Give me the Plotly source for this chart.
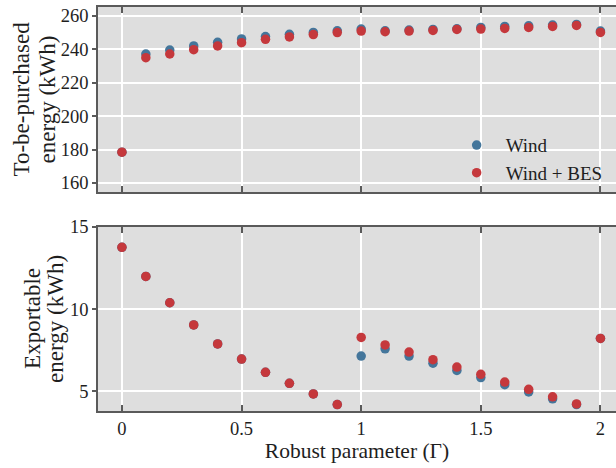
import plotly.graph_objects as go
from plotly.subplots import make_subplots

gamma = [0.0, 0.1, 0.2, 0.3, 0.4, 0.5, 0.6, 0.7, 0.8, 0.9, 1.0,
         1.1, 1.2, 1.3, 1.4, 1.5, 1.6, 1.7, 1.8, 1.9, 2.0]

purchased_wind = [178.4, 237.1, 239.5, 241.9, 244.1, 246.1, 247.5, 248.9, 250.0, 251.0, 252.0,
                  251.0, 251.4, 251.8, 252.2, 253.0, 253.6, 254.0, 254.4, 254.8, 250.8]
purchased_wind_bes = [178.4, 234.9, 237.1, 239.7, 241.9, 243.9, 245.9, 247.3, 248.7, 249.9, 250.8,
                      250.4, 250.8, 251.2, 251.8, 252.0, 252.4, 253.0, 253.6, 254.2, 250.0]

export_wind = [13.75, 11.98, 10.38, 9.03, 7.88, 6.96, 6.15, 5.48, 4.84, 4.19, 7.14,
               7.58, 7.14, 6.71, 6.27, 5.83, 5.40, 4.96, 4.54, 4.19, 8.21]
export_wind_bes = [13.75, 11.98, 10.38, 9.03, 7.88, 6.96, 6.15, 5.48, 4.84, 4.19, 8.27,
                   7.82, 7.38, 6.92, 6.47, 6.03, 5.56, 5.12, 4.66, 4.23, 8.21]

x_ticks = [0, 0.5, 1, 1.5, 2]
x_tick_labels = ["0", "0.5", "1", "1.5", "2"]
y1_ticks = [160, 180, 200, 220, 240, 260]
y2_ticks = [5, 10, 15]
y1_title = ["To-be-purchased", "energy (kWh)"]
y2_title = ["Exportable", "energy (kWh)"]
x_title = "Robust parameter (Γ)"

BLUE = "#44769b"
RED = "#c5383c"
FONT = "Liberation Serif, Times New Roman, serif"
TXT = "#1e1e1e"

W, H = 616, 468
ML, MR, MT, MB = 98, 0, 7, 57
PW = W - ML - MR
PH = H - MT - MB

fig = make_subplots(rows=2, cols=1, shared_xaxes=True, vertical_spacing=0.086)

mk = dict(size=9.5, line=dict(width=0))
fig.add_trace(go.Scatter(x=gamma, y=purchased_wind, mode="markers", name="Wind",
                         marker=dict(color=BLUE, **mk)), row=1, col=1)
fig.add_trace(go.Scatter(x=gamma, y=purchased_wind_bes, mode="markers", name="Wind + BES",
                         marker=dict(color=RED, **mk)), row=1, col=1)
fig.add_trace(go.Scatter(x=gamma, y=export_wind, mode="markers", name="Wind", showlegend=False,
                         marker=dict(color=BLUE, **mk)), row=2, col=1)
fig.add_trace(go.Scatter(x=gamma, y=export_wind_bes, mode="markers", name="Wind + BES", showlegend=False,
                         marker=dict(color=RED, **mk)), row=2, col=1)

axis_common = dict(showline=True, linecolor="#5a5a5a", linewidth=1.5, mirror="ticks",
                   showgrid=True, gridcolor="#ffffff", gridwidth=1.5, zeroline=False,
                   tickcolor="#5a5a5a", tickwidth=1.5, automargin=False,
                   tickfont=dict(family=FONT, size=18.5, color=TXT))

fig.update_xaxes(range=[-0.1, 2.065], tickvals=x_ticks, ticktext=x_tick_labels,
                 ticks="inside", ticklen=6, **axis_common)
fig.update_xaxes(showticklabels=False, row=1, col=1)
fig.update_xaxes(title=dict(text=x_title, font=dict(family=FONT, size=21.5, color=TXT),
                            standoff=0), row=2, col=1)

fig.update_yaxes(ticks="outside", ticklen=4, **axis_common)
fig.update_yaxes(range=[154.6, 265.2], tickvals=y1_ticks, row=1, col=1)
fig.update_yaxes(range=[3.8, 15.0], tickvals=y2_ticks, row=2, col=1)

top_dom = [0.542, 1.0]
bot_dom = [0.0, 0.456]
fig.update_yaxes(domain=top_dom, row=1, col=1)
fig.update_yaxes(domain=bot_dom, row=2, col=1)

def px_to_paper_x(px):
    return (px - ML) / PW

def add_ytitle(lines, centers_px, dom):
    yc = (dom[0] + dom[1]) / 2
    for text, cx in zip(lines, centers_px):
        fig.add_annotation(text=text, textangle=-90, showarrow=False,
                           xref="paper", yref="paper", x=px_to_paper_x(cx), y=yc,
                           xanchor="center", yanchor="middle",
                           font=dict(family=FONT, size=23, color=TXT))

add_ytitle(y1_title, [22, 48], top_dom)
add_ytitle(y2_title, [33, 56], bot_dom)

fig.update_layout(
    width=W, height=H,
    margin=dict(l=ML, r=MR, t=MT, b=MB),
    plot_bgcolor="#dedede", paper_bgcolor="#ffffff",
    font=dict(family=FONT, size=18.5, color=TXT),
    legend=dict(x=0.675, y=0.705, xanchor="left", yanchor="top",
                bgcolor="rgba(0,0,0,0)", font=dict(family=FONT, size=19, color=TXT),
                itemwidth=48, tracegroupgap=0),
)

fig.write_html("out.html", config={"displayModeBar": False},
               post_script="document.body.style.margin='0px';")
